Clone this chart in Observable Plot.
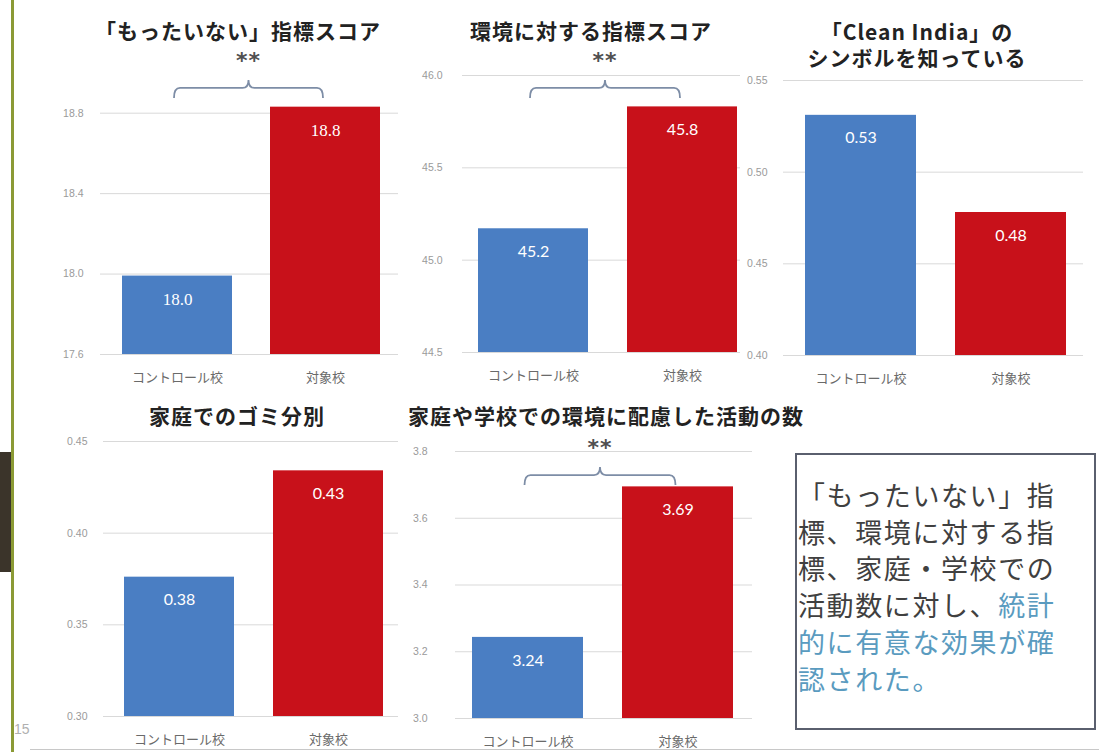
<!DOCTYPE html>
<html lang="ja">
<head>
<meta charset="utf-8">
<script src="https://cdn.jsdelivr.net/npm/d3@7"></script>
<script src="https://cdn.jsdelivr.net/npm/@observablehq/plot@0.6"></script>
<style>
  html, body { margin: 0; padding: 0; }
  body { width: 1099px; height: 752px; position: relative; overflow: hidden; background: #fff;
         font-family: "Noto Sans CJK JP", "Noto Sans", sans-serif; }
  .abs { position: absolute; }
  .title { position: absolute; width: 500px; text-align: center; font-weight: 700; font-size: 21px;
           letter-spacing: 1px; color: #222; line-height: 26px; white-space: pre; }
  .note { position: absolute; left: 795px; top: 453px; width: 301px; height: 277px; box-sizing: border-box;
          border: 2px solid #5a5f6e; background: #fff; padding: 22px 0 0 1px;
          font-size: 27px; letter-spacing: 1.6px; line-height: 36.7px; color: #404040; white-space: nowrap; }
  .note .hl { color: #5a9bbf; }
</style>
</head>
<body>
<div id="root"></div>
<script>
// ---- data ----
const groups = ["コントロール校", "対象校"];
const mottainaiScore = [17.99, 18.83];
const kankyoScore = [45.17, 45.83];
const cleanIndia = [0.531, 0.478];
const gomiBunbetsu = [0.376, 0.434];
const katsudoCount = [3.243, 3.694];

const ticksMottainai = [17.6, 18.0, 18.4, 18.8];
const ticksKankyo = [44.5, 45.0, 45.5, 46.0];
const ticksClean = [0.40, 0.45, 0.50, 0.55];
const ticksGomi = [0.30, 0.35, 0.40, 0.45];
const ticksKatsudo = [3.0, 3.2, 3.4, 3.6, 3.8];

const titleMottainai = ["「もったいない」指標スコア"];
const titleKankyo = ["環境に対する指標スコア"];
const titleClean = ["「Clean India」の", "シンボルを知っている"];
const titleGomi = ["家庭でのゴミ分別"];
const titleKatsudo = ["家庭や学校での環境に配慮した活動の数"];

const significance = "**";
const noteLines = [
  ["「もったいない」指", ""],
  ["標、環境に対する指", ""],
  ["標、家庭・学校での", ""],
  ["活動数に対し、", "統計"],
  ["", "的に有意な効果が確"],
  ["", "認された。"]
];
const pageNumber = "15";

// ---- styling ----
const BLUE = "#4a7ec3";
const RED = "#c8111a";
const root = document.getElementById("root");

function bracketMark(yValue, label) {
  return (index, scales) => {
    const x = scales.x, y = scales.y;
    const bw = typeof x.bandwidth === "function" ? x.bandwidth() : (scales.scales?.x?.bandwidth ?? 0);
    const x0 = x(groups[0]) + bw / 2 - 3, x1 = x(groups[1]) + bw / 2 - 2, xm = (x0 + x1) / 2;
    const yb = y(yValue);
    const g = d3.create("svg:g");
    const r = 6;
    g.append("path")
      .attr("fill", "none").attr("stroke", "#7d8da6").attr("stroke-width", 1.8)
      .attr("d", `M${x0},${yb + 10} Q${x0},${yb} ${x0 + r},${yb} L${xm - r},${yb} Q${xm},${yb} ${xm},${yb - 8}` +
                 ` Q${xm},${yb} ${xm + r},${yb} L${x1 - r},${yb} Q${x1},${yb} ${x1},${yb + 10}`);
    g.append("text").attr("x", xm).attr("y", yb - 20).attr("text-anchor", "middle")
      .attr("font-size", 22).attr("font-weight", 700).attr("letter-spacing", "1px")
      .attr("font-family", "DejaVu Sans, sans-serif").attr("fill", "#505050").text(label);
    return g.node();
  };
}

function makeChart(cfg) {
  const data = groups.map((g, i) => ({g, v: cfg.values[i]}));
  const lo = cfg.domain[0];
  const marks = [
    Plot.gridY(cfg.ticks, {stroke: "#d9d9d9", strokeOpacity: 1, strokeWidth: 1}),
    Plot.axisY(cfg.ticks, {tickSize: 0, tickPadding: cfg.tickPad, tickFormat: d => d.toFixed(cfg.tickDec),
      fontSize: 10.5, fill: "#9a9a9a", color: "#9a9a9a", label: null, fontFamily: "Liberation Sans, sans-serif"}),
    Plot.barY(data, {x: "g", y1: () => lo, y2: "v", fill: "g"}),
    Plot.text(data, {x: "g", y: "v", dy: 23, text: d => d.v.toFixed(cfg.valDec), fill: "#fff",
      fontSize: cfg.valSize, fontFamily: cfg.valFont}),
    Plot.axisX({tickSize: 0, tickPadding: 18, fontSize: 13, fill: "#6a6a6a", color: "#6a6a6a", label: null})
  ];
  if (cfg.bracket != null) marks.push(bracketMark(cfg.bracket, significance));
  const svg = Plot.plot({
    width: cfg.w, height: cfg.h,
    marginLeft: cfg.gx0 - cfg.sx, marginRight: cfg.sx + cfg.w - cfg.gx1,
    marginTop: cfg.yTop - cfg.sy, marginBottom: cfg.sy + cfg.h - cfg.yBot,
    x: {domain: groups, range: [cfg.bx0 - cfg.sx, cfg.bx1 - cfg.sx], paddingInner: 0.26, paddingOuter: 0, label: null},
    y: {domain: cfg.domain, label: null},
    color: {domain: groups, range: [BLUE, RED]},
    style: {background: "transparent", overflow: "visible", fontFamily: "'Noto Sans CJK JP', sans-serif"},
    marks
  });
  const wrap = document.createElement("div");
  wrap.className = "abs";
  wrap.style.left = cfg.sx + "px";
  wrap.style.top = cfg.sy + "px";
  wrap.appendChild(svg);
  root.appendChild(wrap);

  const d = document.createElement("div");
  d.className = "title";
  d.style.left = (cfg.tx - 250) + "px";
  d.style.top = (cfg.ty - 13) + "px";
  d.textContent = cfg.title.join("\n");
  root.appendChild(d);
}

// ---- page decorations ----
function box(l, t, w, h, bg) {
  const d = document.createElement("div");
  d.className = "abs";
  Object.assign(d.style, {left: l + "px", top: t + "px", width: w + "px", height: h + "px", background: bg});
  root.appendChild(d);
}
box(0, 452, 11, 120, "#3b342a");
box(11, 0, 3, 752, "#8b9a35");
box(30, 749, 1069, 1, "#c8c8c8");
const pn = document.createElement("div");
pn.className = "abs";
Object.assign(pn.style, {left: "14px", top: "721px", fontSize: "14px", color: "#b0b0b0", fontFamily: "Liberation Sans, sans-serif"});
pn.textContent = pageNumber;
root.appendChild(pn);

// ---- charts ----
makeChart({sx: 40, sy: 40, w: 362, h: 355, gx0: 100, gx1: 398, yTop: 112.7, yBot: 354,
  domain: [17.6, 18.8], ticks: ticksMottainai, tickDec: 1, tickPad: 17, bx0: 122, bx1: 380,
  values: mottainaiScore, valDec: 1, valSize: 17, valFont: "Liberation Serif, serif",
  bracket: 18.923, title: titleMottainai, tx: 238, ty: 30});

makeChart({sx: 400, sy: 40, w: 345, h: 355, gx0: 462, gx1: 740, yTop: 75, yBot: 352,
  domain: [44.5, 46.0], ticks: ticksKankyo, tickDec: 1, tickPad: 20, bx0: 478, bx1: 738,
  values: kankyoScore, valDec: 1, valSize: 16, valFont: "Lato, sans-serif",
  bracket: 45.93, title: titleKankyo, tx: 591, ty: 30});

makeChart({sx: 735, sy: 40, w: 364, h: 355, gx0: 783, gx1: 1083, yTop: 80, yBot: 355,
  domain: [0.40, 0.55], ticks: ticksClean, tickDec: 2, tickPad: 16, bx0: 805, bx1: 1066,
  values: cleanIndia, valDec: 2, valSize: 16, valFont: "Lato, sans-serif",
  bracket: null, title: titleClean, tx: 917, ty: 31});

makeChart({sx: 40, sy: 425, w: 362, h: 327, gx0: 103, gx1: 398, yTop: 441, yBot: 716,
  domain: [0.30, 0.45], ticks: ticksGomi, tickDec: 2, tickPad: 16, bx0: 124, bx1: 384,
  values: gomiBunbetsu, valDec: 2, valSize: 16, valFont: "Lato, sans-serif",
  bracket: null, title: titleGomi, tx: 237, ty: 415});

makeChart({sx: 400, sy: 425, w: 360, h: 327, gx0: 455, gx1: 752, yTop: 451, yBot: 718,
  domain: [3.0, 3.8], ticks: ticksKatsudo, tickDec: 1, tickPad: 28, bx0: 472, bx1: 733,
  values: katsudoCount, valDec: 2, valSize: 16, valFont: "Lato, sans-serif",
  bracket: 3.728, title: titleKatsudo, tx: 606, ty: 415});

// ---- note box ----
const note = document.createElement("div");
note.className = "note";
noteLines.forEach(([plain, hl]) => {
  const line = document.createElement("div");
  line.appendChild(document.createTextNode(plain));
  if (hl) { const s = document.createElement("span"); s.className = "hl"; s.textContent = hl; line.appendChild(s); }
  note.appendChild(line);
});
root.appendChild(note);
</script>
</body>
</html>
